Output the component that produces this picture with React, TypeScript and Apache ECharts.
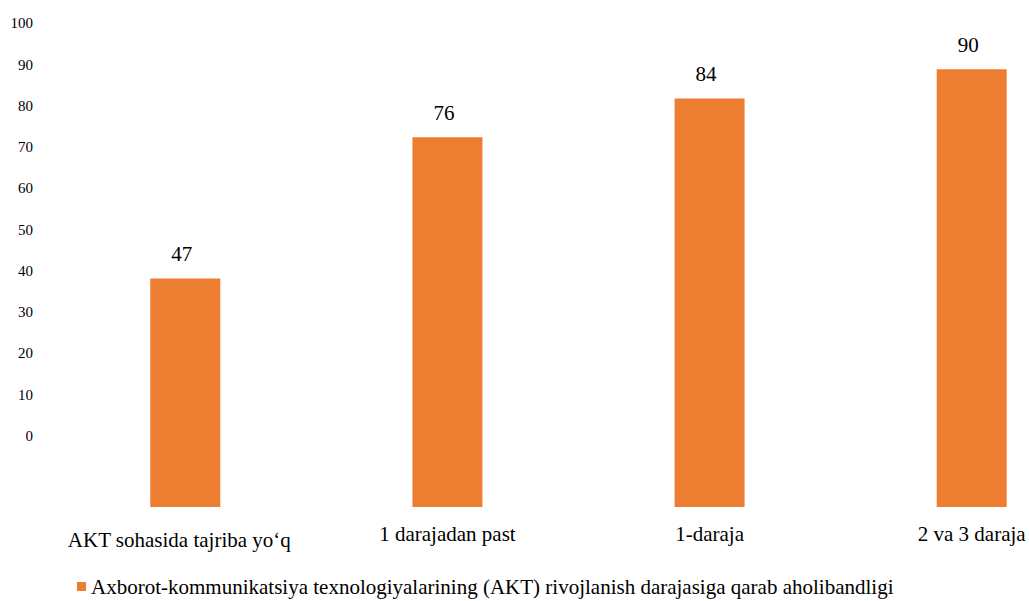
import React, { useEffect, useRef } from "react";
import * as echarts from "echarts";

const categories = ["AKT sohasida tajriba yo‘q", "1 darajadan past", "1-daraja", "2 va 3 daraja"];
const values = [47, 76, 84, 90];
const seriesName =
  "Axborot-kommunikatsiya texnologiyalarining (AKT) rivojlanish darajasiga qarab aholibandligi";
const tickMin = 0;
const tickMax = 100;
const tickStep = 10;

const FONT = "Liberation Serif";
const TEXT = "#000000";
const BAR = "#ED7D31";

export default function App() {
  const ref = useRef<HTMLDivElement>(null);

  useEffect(() => {
    if (!ref.current) return;
    const chart = echarts.init(ref.current, undefined, { renderer: "svg" });
    chart.setOption({
      animation: false,
      backgroundColor: "#ffffff",
      textStyle: { fontFamily: FONT },
      grid: [
        { left: 185.3, right: 57.3, top: 20.6, bottom: 94, containLabel: false },
        { left: 41, width: 100, top: 23.3, height: 412.7, containLabel: false },
      ],
      legend: {
        data: [seriesName],
        left: 72,
        top: 571,
        icon: "rect",
        itemWidth: 9,
        itemHeight: 9,
        itemGap: 10,
        textStyle: { fontSize: 21, fontFamily: FONT, color: TEXT },
      },
      xAxis: [
        {
          type: "category",
          gridIndex: 0,
          data: categories,
          boundaryGap: false,
          axisLine: { show: false },
          axisTick: { show: false },
          splitLine: { show: false },
          axisLabel: {
            interval: 0,
            margin: 16,
            fontSize: 21,
            fontFamily: FONT,
            color: TEXT,
            formatter: (v: string, i: number) => (i === 0 ? `{a|${v}}` : v),
            rich: {
              a: {
                fontSize: 21,
                fontFamily: FONT,
                color: TEXT,
                lineHeight: 33,
                padding: [0, 12, 0, 0],
              },
            },
          },
        },
        { type: "value", gridIndex: 1, show: false, min: 0, max: 1 },
      ],
      yAxis: [
        { type: "value", gridIndex: 0, min: tickMin, max: tickMax, show: false },
        {
          type: "value",
          gridIndex: 1,
          min: tickMin,
          max: tickMax,
          interval: tickStep,
          axisLine: { show: false },
          axisTick: { show: false },
          splitLine: { show: false },
          axisLabel: { margin: 8, fontSize: 15, fontFamily: FONT, color: TEXT },
        },
      ],
      series: [
        {
          name: seriesName,
          type: "bar",
          xAxisIndex: 0,
          yAxisIndex: 0,
          data: values,
          barWidth: 70,
          itemStyle: { color: BAR },
          label: {
            show: true,
            position: "top",
            distance: 14,
            offset: [-3.5, 0],
            fontSize: 21,
            fontFamily: FONT,
            color: TEXT,
          },
        },
      ],
    });
    return () => chart.dispose();
  }, []);

  return (
    <div
      ref={ref}
      style={{ position: "fixed", left: 0, top: 0, width: 1029, height: 601, background: "#fff" }}
    />
  );
}
